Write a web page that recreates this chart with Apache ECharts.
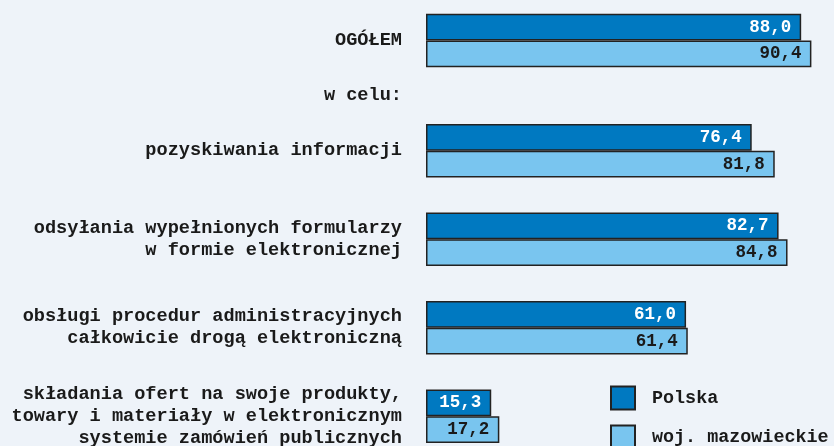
<!DOCTYPE html>
<html><head><meta charset="utf-8">
<script src="https://cdn.jsdelivr.net/npm/echarts@6/dist/echarts.min.js"></script>
<style>html,body{margin:0;padding:0;background:#eef3f9;}#c{width:834px;height:446px;}</style>
</head><body><div id="c"></div>
<script>
const categoriesTop = ['OGÓŁEM', 'w celu:'];
const categoriesMain = [
  'pozyskiwania informacji',
  'odsyłania wypełnionych formularzy\nw formie elektronicznej',
  'obsługi procedur administracyjnych\ncałkowicie drogą elektroniczną',
  'składania ofert na swoje produkty,\ntowary i materiały w elektronicznym\nsystemie zamówień publicznych'
];
const polskaTop = [88.0, null];
const mazowieckieTop = [90.4, null];
const polskaMain = [76.4, 82.7, 61.0, 15.3];
const mazowieckieMain = [81.8, 84.8, 61.4, 17.2];
const seriesNames = ['Polska', 'woj. mazowieckie'];

const FONT = 'Liberation Mono';
const colDark = '#0079c1', colLight = '#79c5ef';
const fmt = p => p.value == null ? '' : p.value.toFixed(1).replace('.', ',');

function bar(name, data, idx, color, labelColor) {
  return {
    name, type: 'bar', data, xAxisIndex: idx, yAxisIndex: idx,
    barWidth: 26.7, barGap: '0%',
    itemStyle: { color, borderColor: '#222', borderWidth: 1.5 },
    label: { show: true, position: 'insideRight', distance: 10, formatter: fmt,
      color: labelColor, fontFamily: FONT, fontWeight: 'bold', fontSize: 17.5 },
    emphasis: { disabled: true }, animation: false
  };
}
const yAxisCommon = {
  type: 'category', inverse: true,
  axisLine: { show: false }, axisTick: { show: false }, splitLine: { show: false },
  axisLabel: { margin: 24, color: '#1a1a1a', fontFamily: FONT, fontWeight: 'bold', fontSize: 18.6, lineHeight: 22, align: 'right' }
};
const xAxisCommon = { type: 'value', min: 0, max: 95.7, show: false };

const chart = echarts.init(document.getElementById('c'));
chart.setOption({
  backgroundColor: '#eef3f9',
  animation: false,
  grid: [
    { left: 426, right: 0, top: 13, height: 110, outerBoundsMode: 'none', containLabel: false },
    { left: 426, right: 0, top: 106.5, height: 354, outerBoundsMode: 'none', containLabel: false }
  ],
  xAxis: [Object.assign({ gridIndex: 0 }, xAxisCommon), Object.assign({ gridIndex: 1 }, xAxisCommon)],
  yAxis: [
    Object.assign({ gridIndex: 0, data: categoriesTop }, yAxisCommon),
    Object.assign({ gridIndex: 1, data: categoriesMain }, yAxisCommon)
  ],
  legend: {
    orient: 'vertical', left: 610, top: 385.5, height: 150, padding: 0,
    itemWidth: 24, itemHeight: 23, itemGap: 14,
    icon: 'rect', data: seriesNames, selectedMode: false,
    textStyle: { color: '#1a1a1a', fontFamily: FONT, fontWeight: 'bold', fontSize: 18.4, padding: [0, 0, 0, 12] }
  },
  series: [
    bar(seriesNames[0], polskaTop, 0, colDark, '#ffffff'),
    bar(seriesNames[1], mazowieckieTop, 0, colLight, '#1a1a1a'),
    bar(seriesNames[0], polskaMain, 1, colDark, '#ffffff'),
    bar(seriesNames[1], mazowieckieMain, 1, colLight, '#1a1a1a')
  ]
});
</script></body></html>
